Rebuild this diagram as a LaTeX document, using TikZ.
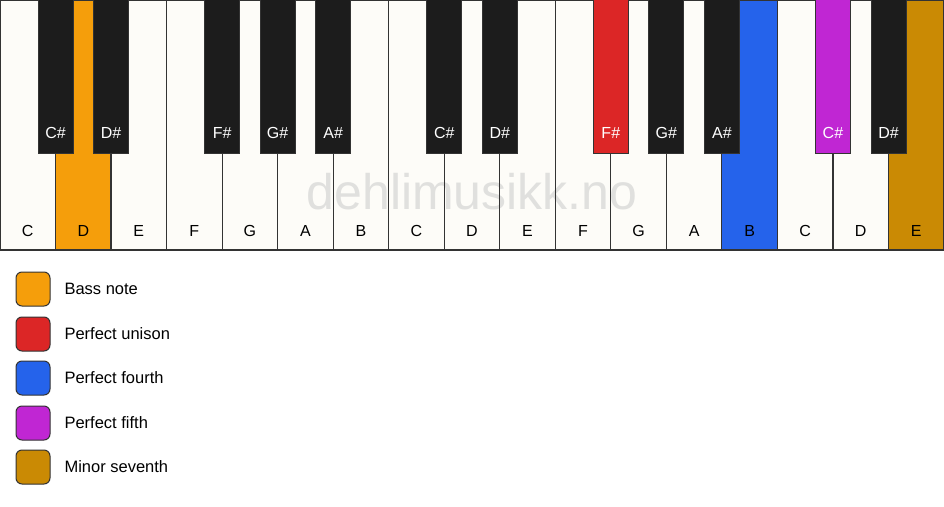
\documentclass[tikz,border=0pt]{standalone}
\usepackage{fontspec}
\setmainfont{Liberation Sans}
\definecolor{keywhite}{HTML}{FDFCF8}
\definecolor{keyblack}{HTML}{1C1C1C}
\definecolor{keyline}{HTML}{333333}
\definecolor{cbass}{HTML}{F59E0B}
\definecolor{cunison}{HTML}{DC2626}
\definecolor{cfourth}{HTML}{2563EB}
\definecolor{cfifth}{HTML}{C026D3}
\definecolor{cseventh}{HTML}{CA8A04}
\definecolor{wmark}{HTML}{E0E0DE}
\begin{document}
\begin{tikzpicture}[x=1pt,y=-1pt,
  whitekey/.style={draw=keyline,line width=1.2pt,fill=keywhite},
  blackkey/.style={draw=keyline,line width=0.8pt,fill=keyblack},
  wlabel/.style={font=\fontsize{16}{18}\selectfont,text=black,anchor=center},
  blabel/.style={font=\fontsize{16}{18}\selectfont,text=white,anchor=center},
  legbox/.style={draw=keyline,line width=1pt,rounded corners=6pt,minimum width=34pt,minimum height=34pt,inner sep=0pt},
  legtext/.style={font=\fontsize{16.5}{18}\selectfont,anchor=west,text=black}]
\useasboundingbox (0,0) rectangle (944,506);
\fill[white] (0,0) rectangle (944,506);
\def\w{55.529}
% white keys (fills)
\foreach \i/\c in {0/keywhite,1/cbass,2/keywhite,3/keywhite,4/keywhite,5/keywhite,6/keywhite,7/keywhite,8/keywhite,9/keywhite,10/keywhite,11/keywhite,12/keywhite,13/cfourth,14/keywhite,15/keywhite,16/cseventh}{
  \fill[\c] (\i*\w,0) rectangle ({(\i+1)*\w},250);
}
\node[font=\fontsize{50}{56}\selectfont,text=wmark] (wm) at (472,192) {dehlimusikk.no};
% white key borders and labels
\foreach \i/\n in {0/C,1/D,2/E,3/F,4/G,5/A,6/B,7/C,8/D,9/E,10/F,11/G,12/A,13/B,14/C,15/D,16/E}{
  \draw[keyline,line width=1.2pt] (\i*\w,0) rectangle ({(\i+1)*\w},250);
  \node[wlabel] (wl\i) at ({(\i+0.5)*\w},231) {\n};
}
% black keys
\foreach \i/\n/\c in {1/C\#/keyblack,2/D\#/keyblack,4/F\#/keyblack,5/G\#/keyblack,6/A\#/keyblack,8/C\#/keyblack,9/D\#/keyblack,11/F\#/cunison,12/G\#/keyblack,13/A\#/keyblack,15/C\#/cfifth,16/D\#/keyblack}{
  \path[blackkey,fill=\c] ({\i*\w-17.5},-1) rectangle ({\i*\w+17.5},153);
  \node[blabel] (bl\i) at ({\i*\w},133) {\n};
}
% legend
\foreach \y/\c/\t [count=\k] in {289/cbass/Bass note,334/cunison/Perfect unison,378/cfourth/Perfect fourth,423/cfifth/Perfect fifth,467/cseventh/Minor seventh}{
  \node[legbox,fill=\c] (lb\k) at (33,\y) {};
  \node[legtext] (lt\k) at (61,\y) {\t};
}
\end{tikzpicture}
\end{document}
